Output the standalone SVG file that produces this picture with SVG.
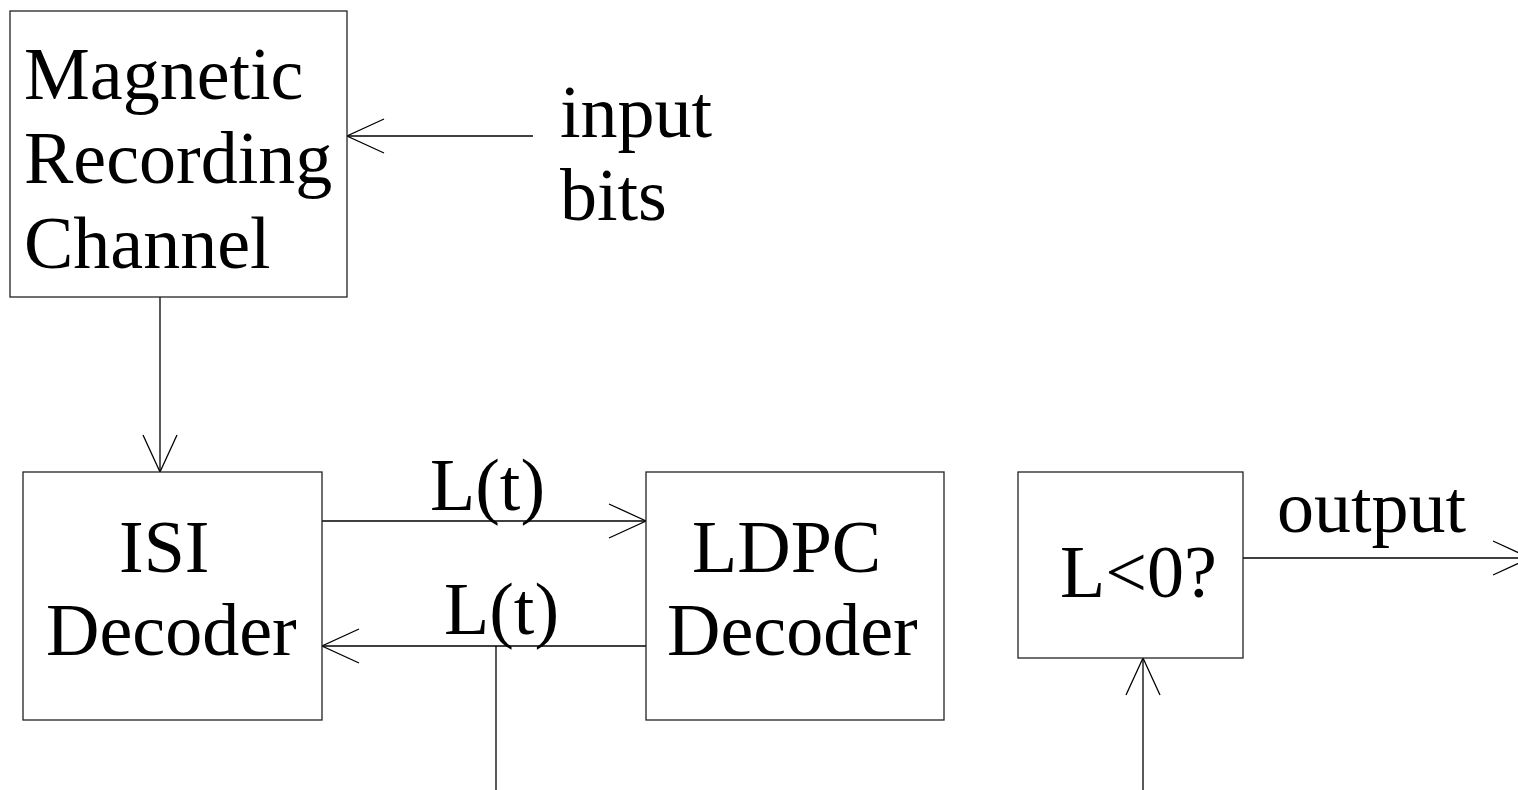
<svg xmlns="http://www.w3.org/2000/svg" width="1518" height="790" viewBox="0 0 1518 790">
  <style>
    .box { fill: #fff; stroke: #222; stroke-width: 1.3; }
    .wire { fill: none; stroke: #000; stroke-width: 1.3; }
    .lbl { font-family: "Liberation Serif", "Times New Roman", serif; font-size: 74px; fill: #000; }
  </style>
  <defs>
    <marker id="vee" viewBox="-40 -20 42 40" refX="0" refY="0" markerWidth="42" markerHeight="40" orient="auto" markerUnits="userSpaceOnUse" overflow="visible">
      <path d="M-37,-17 L0,0 L-37,17" fill="none" stroke="#000" stroke-width="1.3"/>
    </marker>
  </defs>
  <rect width="1518" height="790" fill="#fff"/>

  <g id="connectors">
    <line class="wire" x1="533" y1="136" x2="347" y2="136" marker-end="url(#vee)"/>
    <line class="wire" x1="160" y1="297" x2="160" y2="472" marker-end="url(#vee)"/>
    <line class="wire" x1="322" y1="521" x2="646" y2="521" marker-end="url(#vee)"/>
    <line class="wire" x1="646" y1="646" x2="322" y2="646" marker-end="url(#vee)"/>
    <line class="wire" x1="496" y1="646" x2="496" y2="790"/>
    <line class="wire" x1="1143" y1="790" x2="1143" y2="658" marker-end="url(#vee)"/>
    <line class="wire" x1="1243" y1="558" x2="1530" y2="558" marker-end="url(#vee)"/>
  </g>

  <g id="channel">
    <rect class="box" x="10" y="11" width="337" height="286"/>
    <text class="lbl" x="24" y="99">Magnetic</text>
    <text class="lbl" x="24" y="183">Recording</text>
    <text class="lbl" x="24" y="268">Channel</text>
  </g>

  <g id="input-label">
    <text class="lbl" x="560" y="137">input</text>
    <text class="lbl" x="560" y="220">bits</text>
  </g>

  <g id="isi-decoder">
    <rect class="box" x="23" y="472" width="299" height="248"/>
    <text class="lbl" x="119" y="572">ISI</text>
    <text class="lbl" x="46" y="655">Decoder</text>
  </g>

  <g id="ldpc-decoder">
    <rect class="box" x="646" y="472" width="298" height="248"/>
    <text class="lbl" x="692" y="572">LDPC</text>
    <text class="lbl" x="667" y="655">Decoder</text>
  </g>

  <g id="edge-labels">
    <text class="lbl" x="430" y="510">L(t)</text>
    <text class="lbl" x="444" y="634">L(t)</text>
    <text class="lbl" x="1277" y="532">output</text>
  </g>

  <g id="decision">
    <rect class="box" x="1018" y="472" width="225" height="186"/>
    <text class="lbl" x="1060" y="597">L&lt;0?</text>
  </g>
</svg>
